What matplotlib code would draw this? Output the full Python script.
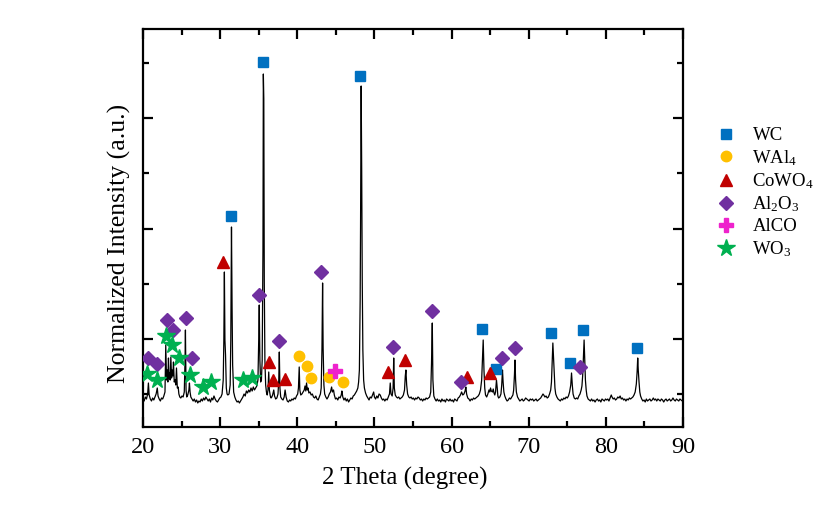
import matplotlib
matplotlib.use("Agg")
import matplotlib.pyplot as plt
from matplotlib.ticker import MultipleLocator, FixedLocator

plt.rcParams['font.family'] = ['Liberation Serif', 'DejaVu Serif']
plt.rcParams['mathtext.fontset'] = 'custom'
plt.rcParams['mathtext.rm'] = 'Liberation Serif'
plt.rcParams['mathtext.it'] = 'Liberation Serif:italic'

# ---- XRD pattern (2 theta in degree, intensity in a.u.) ----
xrd_pattern = [
    (20.0, 2), (20.15, -1), (20.3, 3), (20.45, 1), (20.6, 6), (20.7, 17), (20.8, 5), (20.95, 1),
    (21.1, -1), (21.25, 2), (21.4, 0), (21.55, 3), (21.7, 6), (21.85, 12), (21.95, 4), (22.1, 1),
    (22.25, -1), (22.4, 2), (22.55, 1), (22.7, 4), (22.85, 8), (22.95, 55), (23.05, 20), (23.15, 30),
    (23.22, 18), (23.3, 42), (23.38, 22), (23.44, 27), (23.52, 20), (23.61, 43), (23.7, 22), (23.78, 30),
    (23.87, 24), (23.95, 38), (24.05, 18), (24.17, 20), (24.25, 15), (24.34, 32), (24.45, 12), (24.56, 13),
    (24.65, 6), (24.77, 3), (24.9, 2), (25.05, 4), (25.2, 3), (25.35, 8), (25.45, 40), (25.5, 70),
    (25.58, 10), (25.67, 3), (25.8, 5), (25.95, 10), (26.02, 17), (26.1, 8), (26.2, 3), (26.35, 1),
    (26.5, -1), (26.65, 1), (26.8, -2), (26.95, 0), (27.1, -3), (27.25, -1), (27.4, -2), (27.55, 1),
    (27.7, -1), (27.85, 2), (28.0, 0), (28.15, 3), (28.3, 1), (28.45, -1), (28.6, 1), (28.75, -2),
    (28.9, 2), (29.05, 0), (29.2, 4), (29.35, 1), (29.5, -1), (29.65, -2), (29.8, 0), (29.95, 2),
    (30.1, 3), (30.25, 6), (30.4, 20), (30.48, 60), (30.55, 128), (30.62, 60), (30.7, 45), (30.8, 12),
    (30.9, 6), (31.0, 5), (31.15, 6), (31.3, 15), (31.38, 60), (31.47, 173), (31.55, 90), (31.62, 35),
    (31.75, 8), (31.9, 3), (32.05, 0), (32.2, -2), (32.35, -1), (32.5, -3), (32.65, -1), (32.8, 1),
    (32.95, 3), (33.1, 6), (33.25, 4), (33.4, 9), (33.55, 7), (33.7, 10), (33.85, 8), (34.0, 12),
    (34.15, 9), (34.3, 13), (34.45, 10), (34.6, 12), (34.75, 14), (34.9, 20), (35.0, 60), (35.07, 95),
    (35.15, 40), (35.25, 18), (35.35, 20), (35.45, 40), (35.55, 150), (35.6, 326), (35.66, 301), (35.72, 120),
    (35.8, 40), (35.9, 15), (36.0, 8), (36.1, 5), (36.2, 10), (36.3, 28), (36.38, 10), (36.5, 4),
    (36.6, 2), (36.7, 3), (36.8, 5), (36.95, 10), (37.05, 4), (37.2, 1), (37.35, 2), (37.5, 6),
    (37.6, 20), (37.67, 48), (37.75, 12), (37.85, 3), (38.0, 1), (38.15, 0), (38.3, 3), (38.42, 10),
    (38.55, 3), (38.7, -1), (38.85, -2), (39.0, 0), (39.15, -1), (39.3, 1), (39.45, 0), (39.6, 2),
    (39.75, 1), (39.9, 4), (40.05, 6), (40.15, 12), (40.25, 33), (40.33, 10), (40.45, 5), (40.6, 6),
    (40.75, 8), (40.9, 10), (41.0, 14), (41.1, 9), (41.2, 17), (41.3, 10), (41.4, 12), (41.5, 7),
    (41.65, 8), (41.8, 5), (41.95, 6), (42.1, 3), (42.25, 2), (42.4, 4), (42.55, 1), (42.7, 0),
    (42.85, 3), (43.0, 6), (43.1, 12), (43.2, 52), (43.28, 117), (43.35, 52), (43.45, 15), (43.55, 6),
    (43.7, 3), (43.85, 1), (44.0, 3), (44.15, 6), (44.3, 8), (44.45, 13), (44.55, 8), (44.7, 10),
    (44.8, 5), (44.95, 1), (45.1, 2), (45.25, 0), (45.4, 3), (45.55, 2), (45.7, 5), (45.78, 9),
    (45.9, 3), (46.05, 0), (46.2, 2), (46.35, -1), (46.5, 1), (46.65, -2), (46.8, 0), (46.95, 2),
    (47.1, 1), (47.25, 4), (47.4, 5), (47.55, 7), (47.7, 9), (47.85, 12), (47.95, 18), (48.05, 30),
    (48.15, 100), (48.2, 172), (48.28, 314), (48.35, 229), (48.42, 120), (48.5, 50), (48.6, 20), (48.7, 12),
    (48.85, 7), (49.0, 4), (49.15, 2), (49.3, 0), (49.45, 3), (49.6, 2), (49.75, 5), (49.9, 8),
    (50.0, 3), (50.15, 1), (50.3, 4), (50.45, 2), (50.6, 6), (50.75, 5), (50.9, 2), (51.05, 0),
    (51.2, 1), (51.35, -1), (51.5, 1), (51.65, 0), (51.8, 3), (51.95, 6), (52.05, 17), (52.15, 6),
    (52.3, 4), (52.42, 12), (52.5, 42), (52.58, 12), (52.7, 5), (52.85, 3), (53.0, 2), (53.15, 3),
    (53.3, 1), (53.45, 2), (53.6, 3), (53.75, 5), (53.9, 10), (54.0, 24), (54.08, 30), (54.18, 15),
    (54.3, 6), (54.45, 3), (54.6, 2), (54.75, 3), (54.9, 1), (55.05, 2), (55.2, 0), (55.35, 2),
    (55.5, 1), (55.65, 3), (55.8, 2), (55.95, 0), (56.1, 1), (56.25, -1), (56.4, 1), (56.55, 0),
    (56.7, 2), (56.85, 1), (57.0, 2), (57.15, 3), (57.3, 8), (57.4, 37), (57.5, 77), (57.58, 20),
    (57.7, 4), (57.85, 1), (58.0, -1), (58.15, 1), (58.3, -1), (58.45, 0), (58.6, -2), (58.75, 1),
    (58.9, -1), (59.05, 0), (59.2, -2), (59.35, 1), (59.5, 0), (59.65, -1), (59.8, 1), (59.95, -1),
    (60.1, 0), (60.25, -2), (60.4, 1), (60.55, 0), (60.7, -1), (60.85, 2), (61.0, 3), (61.15, 5),
    (61.3, 8), (61.45, 5), (61.6, 6), (61.75, 9), (61.85, 13), (61.95, 6), (62.1, 2), (62.25, 1),
    (62.4, -1), (62.55, 1), (62.7, 0), (62.85, 2), (63.0, 1), (63.15, 2), (63.3, 3), (63.45, 4),
    (63.6, 6), (63.75, 10), (63.9, 20), (64.0, 40), (64.1, 60), (64.2, 30), (64.3, 12), (64.4, 5),
    (64.55, 3), (64.7, 6), (64.85, 10), (64.95, 8), (65.05, 12), (65.15, 9), (65.3, 8), (65.4, 11),
    (65.5, 7), (65.6, 5), (65.7, 8), (65.82, 20), (65.92, 12), (66.0, 4), (66.1, 2), (66.25, 3),
    (66.4, 6), (66.5, 15), (66.6, 30), (66.68, 18), (66.78, 8), (66.9, 4), (67.05, 1), (67.2, -1),
    (67.35, 0), (67.5, 2), (67.65, 1), (67.8, 3), (67.95, 5), (68.05, 10), (68.15, 25), (68.22, 40),
    (68.3, 20), (68.4, 8), (68.55, 3), (68.7, 1), (68.85, -1), (69.0, 0), (69.15, 1), (69.3, -1),
    (69.45, 0), (69.6, 2), (69.75, 1), (69.9, 0), (70.05, -1), (70.2, 1), (70.35, 0), (70.5, 1),
    (70.65, -1), (70.8, 0), (70.95, 1), (71.1, -1), (71.25, 0), (71.4, 1), (71.55, 2), (71.7, 4),
    (71.85, 6), (71.95, 5), (72.1, 3), (72.25, 4), (72.4, 2), (72.55, 3), (72.7, 6), (72.85, 10),
    (72.95, 18), (73.05, 40), (73.13, 57), (73.2, 45), (73.3, 28), (73.4, 12), (73.5, 6), (73.65, 3),
    (73.8, 1), (73.95, 0), (74.1, -1), (74.25, 1), (74.4, 0), (74.55, 2), (74.7, 1), (74.85, 3),
    (75.0, 2), (75.15, 4), (75.3, 8), (75.45, 15), (75.55, 27), (75.65, 15), (75.75, 6), (75.9, 2),
    (76.05, 1), (76.2, 2), (76.35, 1), (76.5, 4), (76.65, 6), (76.8, 10), (76.9, 14), (77.0, 25),
    (77.1, 45), (77.18, 60), (77.27, 40), (77.35, 20), (77.45, 10), (77.55, 4), (77.7, 1), (77.85, 0),
    (78.0, -1), (78.15, 1), (78.3, -1), (78.45, 0), (78.6, -2), (78.75, 0), (78.9, 1), (79.05, -1),
    (79.2, 0), (79.35, -2), (79.5, 1), (79.65, 0), (79.8, -1), (79.95, 1), (80.1, 0), (80.25, 1),
    (80.4, -1), (80.55, 2), (80.7, 5), (80.8, 3), (80.95, 1), (81.1, 2), (81.25, 0), (81.4, 1),
    (81.55, 3), (81.7, 2), (81.85, 4), (82.0, 1), (82.15, 2), (82.3, 0), (82.45, 1), (82.6, -1),
    (82.75, 1), (82.9, 0), (83.05, 2), (83.2, 1), (83.35, 2), (83.5, 3), (83.65, 5), (83.8, 8),
    (83.95, 16), (84.05, 28), (84.13, 42), (84.2, 30), (84.3, 18), (84.4, 8), (84.5, 4), (84.65, 1),
    (84.8, -1), (84.95, 0), (85.1, -2), (85.25, 1), (85.4, -1), (85.55, 0), (85.7, 1), (85.85, -1),
    (86.0, 0), (86.15, 2), (86.3, 0), (86.45, 1), (86.6, -1), (86.75, 1), (86.9, 0), (87.05, -1),
    (87.2, 1), (87.35, 0), (87.5, -2), (87.65, 0), (87.8, 1), (87.95, -1), (88.1, 0), (88.25, 1),
    (88.4, -1), (88.55, 0), (88.7, 2), (88.85, 0), (89.0, -1), (89.15, 1), (89.3, 0), (89.45, -1),
    (89.6, 1), (89.75, 0), (89.9, -1), (90.0, 0),
]
two_theta = [p[0] for p in xrd_pattern]
intensity = [p[1] for p in xrd_pattern]

# ---- phase markers (2 theta, marker height) ----
wc_x = [31.45, 35.6, 48.17, 63.98, 65.8, 72.93, 75.4, 77.08, 84.08]
wc_y = [184, 338, 324, 71, 31, 67, 37, 70, 52]

wal4_x = [40.22, 41.3, 41.78, 44.15, 45.89]
wal4_y = [44, 34, 22, 23, 18]

cowo4_x = [30.41, 36.37, 36.9, 38.41, 51.76, 53.96, 61.96, 64.98]
cowo4_y = [138, 38, 20, 21, 28, 40, 23, 27]

al2o3_x = [20.7, 21.77, 23.07, 23.85, 25.53, 26.3, 35.0, 37.63, 43.07, 52.45, 57.42, 61.18, 66.5, 68.22, 76.65]
al2o3_y = [42, 36, 80, 70, 82, 42, 105, 59, 128, 53, 89, 18, 42, 52, 33]

alco_x = [44.89]
alco_y = [29]

wo3_x = [20.56, 21.77, 22.98, 23.8, 24.62, 26.09, 27.82, 28.82, 32.92, 34.09]
wo3_y = [26, 20, 64, 55, 42, 25, 13, 18, 20, 22]

phase_labels = ['WC', 'WAl$_4$', 'CoWO$_4$', 'Al$_2$O$_3$', 'AlCO', 'WO$_3$']
phase_colors = ['#0070C0', '#FFC000', '#C00000', '#7030A0', '#EE22CC', '#00B050']

x_ticks = [20, 30, 40, 50, 60, 70, 80, 90]
y_major_ticks = [61, 171, 282]
y_minor_ticks = [6, 116, 227, 337]

fig = plt.figure(figsize=(8.2, 5.2), dpi=100)
ax = fig.add_axes([143/820, 1-427/520, 540/820, 398/520])

ax.plot(two_theta, intensity, color='black', lw=0.9, zorder=2)

ax.plot(wc_x, wc_y, ls='none', marker='s', ms=7, color=phase_colors[0], label=phase_labels[0], zorder=3)
ax.plot(wal4_x, wal4_y, ls='none', marker='o', ms=7.5, color=phase_colors[1], label=phase_labels[1], zorder=3)
ax.plot(cowo4_x, cowo4_y, ls='none', marker='^', ms=9, color=phase_colors[2], label=phase_labels[2], zorder=3)
ax.plot(al2o3_x, al2o3_y, ls='none', marker='D', ms=7, color=phase_colors[3], label=phase_labels[3], zorder=3)
ax.plot(alco_x, alco_y, ls='none', marker='P', ms=9.5, color=phase_colors[4], label=phase_labels[4], zorder=3)
ax.plot(wo3_x, wo3_y, ls='none', marker='*', ms=13, color=phase_colors[5], label=phase_labels[5], zorder=3)

ax.set_xlim(20, 90)
ax.set_ylim(-27, 371)
ax.set_xticks(x_ticks)
ax.xaxis.set_minor_locator(MultipleLocator(5))
ax.yaxis.set_major_locator(FixedLocator(y_major_ticks))
ax.yaxis.set_minor_locator(FixedLocator(y_minor_ticks))
ax.set_yticklabels([])

ax.tick_params(which='both', direction='in', top=True, right=True, width=1.6)
ax.tick_params(which='major', length=7, labelsize=17.5)
ax.tick_params(which='minor', length=4)
ax.tick_params(axis='x', which='major', pad=7)
for s in ax.spines.values():
    s.set_linewidth(1.6)

ax.set_xlabel('2 Theta (degree)', fontsize=18)
ax.set_ylabel('Normalized Intensity (a.u.)', fontsize=18.5)
ax.xaxis.set_label_coords(0.485, -0.1)
ax.yaxis.set_label_coords(-0.022, 0.46)

leg = ax.legend(loc='upper left', bbox_to_anchor=(715/820, 1-127/520), bbox_transform=fig.transFigure,
                frameon=False, fontsize=13.5, handlelength=1.2, handletextpad=0.8,
                labelspacing=0.2, borderpad=0, borderaxespad=0)

fig.savefig('out.png', dpi=100)
